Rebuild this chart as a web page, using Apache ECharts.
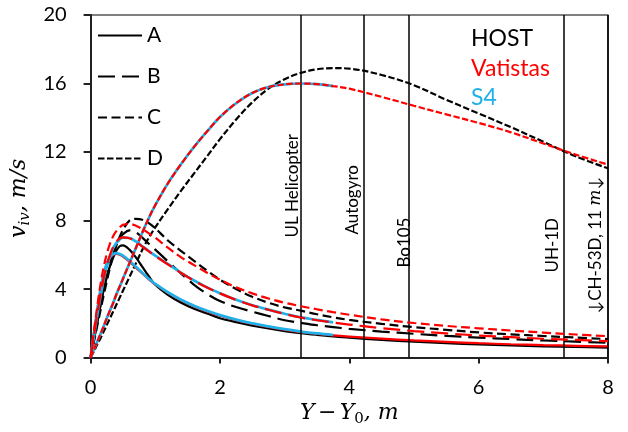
<!DOCTYPE html>
<html><head><meta charset="utf-8">
<script src="https://cdn.jsdelivr.net/npm/echarts@6/dist/echarts.min.js"></script>
<style>html,body{margin:0;padding:0;background:#fff}#c{width:628px;height:432px}</style>
</head><body><div id="c"></div>
<script>
// x positions (Y - Y0, m)
const xs = [0,0.05,0.1,0.15,0.2,0.25,0.3,0.35,0.4,0.45,0.5,0.6,0.7,0.8,0.9,1.0,1.2,1.4,1.6,1.8,2.0,2.25,2.5,2.75,3.0,3.25,3.5,3.75,4.0,4.5,5.0,5.5,6.0,6.5,7.0,7.5,8.0];

// HOST
const hostA = [0,1.0,2.0,3.0,3.9,4.7,5.35,5.85,6.25,6.5,6.55,6.3,5.85,5.3,4.75,4.25,3.65,3.2,2.85,2.57,2.3,2.07,1.87,1.7,1.55,1.43,1.33,1.24,1.16,1.03,0.93,0.84,0.77,0.71,0.66,0.62,0.58];
const hostB = [0,1.0,2.0,3.0,3.9,4.75,5.5,6.1,6.6,6.95,7.2,7.43,7.32,7.0,6.65,6.3,5.6,4.9,4.25,3.72,3.3,2.95,2.68,2.43,2.18,2.03,1.89,1.78,1.68,1.52,1.39,1.27,1.17,1.08,1.0,0.93,0.86];
const hostC = [0,0.9,1.8,2.7,3.6,4.45,5.25,5.95,6.55,7.05,7.45,8.0,8.1,8.05,7.85,7.55,6.82,6.22,5.65,5.08,4.55,4.0,3.55,3.2,2.93,2.74,2.53,2.35,2.2,1.97,1.78,1.62,1.47,1.36,1.26,1.17,1.08];
const hostD = [0,0.35,0.75,1.1,1.5,1.9,2.3,2.7,3.1,3.5,3.9,4.7,5.5,6.3,7.0,7.6,8.7,9.75,10.75,11.75,12.75,13.9,14.9,15.7,16.25,16.62,16.83,16.9,16.87,16.5,15.9,15.05,14.25,13.45,12.6,11.75,11.05];

// Vatistas
const vatA = [0,1.4,2.7,3.88,4.82,5.45,5.83,6.0,6.05,6.0,5.9,5.6,5.25,4.91,4.57,4.27,3.77,3.35,3.0,2.7,2.45,2.19,1.97,1.79,1.63,1.49,1.39,1.30,1.23,1.11,1.0,0.92,0.84,0.78,0.73,0.69,0.65];
const vatB = [0,1.25,2.5,3.6,4.6,5.4,6.0,6.48,6.78,6.95,7.02,6.97,6.76,6.48,6.2,5.93,5.43,4.94,4.49,4.09,3.75,3.37,3.05,2.79,2.55,2.34,2.18,2.05,1.93,1.72,1.55,1.41,1.29,1.19,1.1,1.03,0.96];
const vatC = [0,1.5,2.9,4.2,5.25,6.05,6.65,7.1,7.4,7.6,7.75,7.8,7.7,7.5,7.25,7.0,6.4,5.85,5.4,4.95,4.55,4.1,3.75,3.45,3.2,3.0,2.82,2.65,2.5,2.23,2.02,1.85,1.71,1.58,1.46,1.35,1.25];
const vatD = [0,0.45,0.9,1.35,1.8,2.3,2.75,3.2,3.7,4.15,4.6,5.5,6.4,7.3,8.15,8.9,10.2,11.3,12.3,13.2,14.05,14.85,15.45,15.8,15.95,16.0,15.97,15.85,15.7,15.22,14.7,14.2,13.7,13.15,12.5,11.85,11.27];

// S4 (computed only up to 3.75 m)
const s4A = [0,1.4,2.7,3.9,4.85,5.5,5.88,6.05,6.1,6.05,5.95,5.65,5.3,4.95,4.6,4.3,3.8,3.38,3.03,2.73,2.48,2.22,2.0,1.82,1.66,1.52,1.41,1.32];
const s4B = [0,1.2,2.4,3.5,4.5,5.3,5.9,6.4,6.7,6.9,7.0,6.98,6.78,6.5,6.22,5.95,5.45,4.95,4.5,4.1,3.76,3.38,3.06,2.8,2.56,2.35,2.2,2.06];
const s4D = [0,0.45,0.9,1.35,1.8,2.3,2.75,3.2,3.7,4.15,4.6,5.5,6.4,7.3,8.15,8.9,10.2,11.3,12.3,13.2,14.05,14.85,15.45,15.8,15.95,16.0,15.97,15.85];

// rotor radii markers
const markerNames = ['UL Helicopter','Autogyro','Bo105','UH-1D','↓CH-53D, 11 {m|m}↓'];
const markerX = [3.25,4.22,4.92,7.32,8];

const xTicks = {min:0, max:8, interval:2};
const yTicks = {min:0, max:20, interval:4};

// ---------- styling ----------
const font = 'Lato, "Open Sans", sans-serif';
const mathFont = '"DejaVu Serif", serif';
const dash = {A:'solid', B:[17,7], C:[9,4.5], D:[6.5,2.5]};
const labelAlong = [120,123,90,85,44];
const labelGap = [0,3,-4,3,4];

function mk(name, arr, color, width, type, z) {
  return {
    type:'line', name, z,
    data: arr.map((v,i)=>[xs[i], v]),
    symbol:'none', showSymbol:false, smooth:0.35, silent:true,
    lineStyle:{color, width, type}, itemStyle:{color}
  };
}
const BLACK='#000', RED='#ff0000', BLUE='#1fb0e8';
const series = [
  mk('A', hostA, BLACK, 2.2, dash.A, 2),
  mk('B', hostB, BLACK, 2.2, dash.B, 2),
  mk('C', hostC, BLACK, 2.2, dash.C, 2),
  mk('D', hostD, BLACK, 2.2, dash.D, 2),
  mk('Vatistas A', vatA, RED, 2.2, dash.A, 3),
  mk('S4 A', s4A, BLUE, 2.7, 'solid', 4),
  mk('S4 B', s4B, BLUE, 2.7, 'solid', 4),
  mk('S4 D', s4D, BLUE, 2.7, 'solid', 4),
  mk('Vatistas B', vatB, RED, 2.2, dash.B, 5),
  mk('Vatistas C', vatC, RED, 2.2, dash.C, 5),
  mk('Vatistas D', vatD, RED, 2.2, dash.D, 5)
];
series[0].markLine = {
  silent:true, symbol:['none','none'], animation:false,
  lineStyle:{color:'#000', width:1.5, type:'solid'},
  label:{show:true, position:'insideStartTop', fontFamily:font, fontSize:17, color:'#000',
         rich:{m:{fontFamily:mathFont, fontStyle:'italic', fontSize:17, color:'#000'}}},
  emphasis:{disabled:true},
  data: markerX.map((x,i)=>({xAxis:x, label:{formatter:markerNames[i], distance:[labelAlong[i], labelGap[i]]}}))
};

const it = {fontFamily:mathFont, fontStyle:'italic', fontSize:22, color:'#000'};
const sub = {fontFamily:mathFont, fontStyle:'italic', fontSize:15, color:'#000', padding:[12,0,0,0]};
const up = {fontFamily:mathFont, fontSize:22, color:'#000'};
const tk = {fontFamily:font, fontSize:23, fontWeight:'normal', lineHeight:29.5};

const option = {
  animation:false,
  grid:{left:87, right:20, top:15, bottom:70, show:true, borderColor:'#000', borderWidth:1.2, containLabel:false},
  title:{
    text:'{k|HOST}\n{r|Vatistas}\n{b|S4}', left:471, top:24, padding:0,
    textStyle:{fontWeight:'normal', rich:{
      k:{...tk, color:'#000'},
      r:{...tk, color:RED},
      b:{...tk, color:BLUE}
    }}
  },
  legend:{
    data:['A','B','C','D'], orient:'vertical', left:97, top:25, padding:0,
    itemWidth:44, itemHeight:20, itemGap:20, selectedMode:false,
    itemStyle:{opacity:0},
    textStyle:{fontFamily:font, fontSize:21, color:'#000'}
  },
  xAxis:{
    type:'value', min:xTicks.min, max:xTicks.max, interval:xTicks.interval,
    axisLine:{show:true, onZero:false, lineStyle:{color:'#222', width:2}},
    axisTick:{show:true, length:6, lineStyle:{color:'#222', width:2}},
    axisLabel:{margin:20, fontFamily:font, fontSize:20, color:'#000'},
    splitLine:{show:false},
    name:'{i|Y} {u|−} {i|Y}{s|0}{i|, m}', nameLocation:'middle', nameGap:36,
    nameTextStyle:{rich:{i:it, s:{...sub, fontStyle:'normal'}, u:up}}
  },
  yAxis:{
    type:'value', min:yTicks.min, max:yTicks.max, interval:yTicks.interval,
    axisLine:{show:true, lineStyle:{color:'#222', width:2}},
    axisTick:{show:true, length:7, lineStyle:{color:'#222', width:2}},
    axisLabel:{margin:24, fontFamily:font, fontSize:20, color:'#000'},
    splitLine:{show:false},
    name:'{i|v}{s|iv}{i|, m/s}', nameLocation:'middle', nameGap:37, nameRotate:90,
    nameTextStyle:{padding:[0,24,0,0], rich:{i:it, s:sub}}
  },
  series
};
const chart = echarts.init(document.getElementById('c'), null, {renderer:'canvas'});
chart.setOption(option);
</script>
</body></html>
